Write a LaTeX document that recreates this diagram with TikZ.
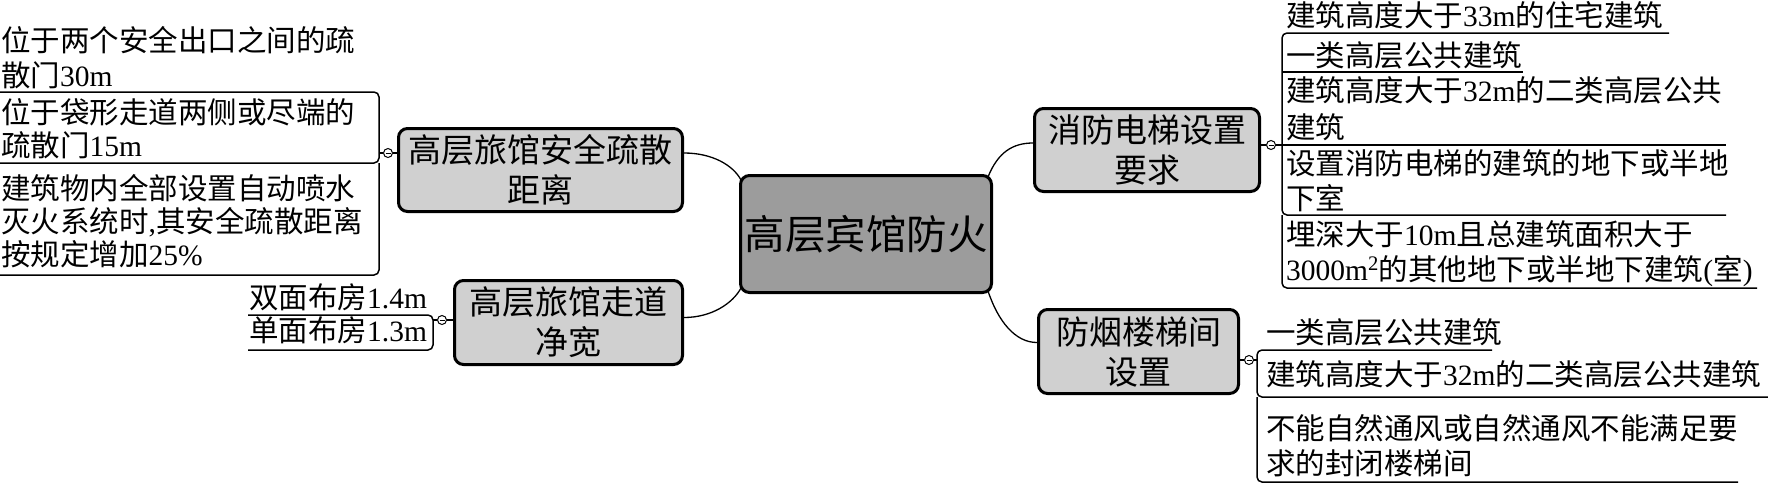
\documentclass[tikz,border=0pt]{standalone}
\usepackage{fontspec}
\setmainfont{Noto Sans CJK SC}
\newfontfamily\latfont{Liberation Serif}
\newcommand\latn[1]{{\latfont #1}}
\usetikzlibrary{backgrounds}
\definecolor{cengray}{HTML}{9C9C9C}
\definecolor{subgray}{HTML}{D0D0D0}
\tikzset{
 cnode/.style={draw=black, line width=3pt, rounded corners=9pt, fill=cengray, minimum width=251pt, minimum height=117pt, inner sep=0pt, font=\fontsize{40.5}{48}\selectfont},
 snode/.style={draw=black, line width=3pt, rounded corners=9pt, fill=subgray, inner sep=0pt, align=center, font=\fontsize{33}{40}\selectfont},
 leaf/.style={anchor=base west, inner sep=0pt, align=left, font=\fontsize{29.5}{35}\selectfont},
 leafs/.style={leaf, font=\fontsize{29.5}{33}\selectfont},
 bline/.style={line width=1.5pt, rounded corners=5pt},
 conn/.style={line width=1.3pt},
 knob/.style={circle, draw, line width=1pt, fill=white, minimum size=9pt, inner sep=0pt,
   path picture={\draw[line width=0.8pt] ([xshift=-2.5pt]path picture bounding box.center) -- ([xshift=2.5pt]path picture bounding box.center);}},
}
\begin{document}
\begin{tikzpicture}[x=1pt,y=-1pt]
\useasboundingbox (0,0) rectangle (1768,483);
% central and main topics
\node[cnode] (cen) at (866,234) {高层宾馆防火};
\node[snode, minimum width=284pt, minimum height=83pt] (A) at (540.5,170) {高层旅馆安全疏散\\距离};
\node[snode, minimum width=228pt, minimum height=84pt] (B) at (568.5,322.5) {高层旅馆走道\\净宽};
\node[snode, minimum width=225pt, minimum height=83pt] (C) at (1147,150) {消防电梯设置\\要求};
\node[snode, minimum width=200pt, minimum height=84pt] (D) at (1138.5,351.5) {防烟楼梯间\\设置};
% connectors
\begin{scope}[on background layer]
\draw[conn] ([yshift=17pt]A.east) .. controls +(28,0) and +(-8,-15) .. ([xshift=2pt,yshift=-6pt]cen.north west);
\draw[conn] ([yshift=5pt]B.east) .. controls +(28,0) and +(-8,15) .. ([xshift=2pt,yshift=6pt]cen.south west);
\draw[conn] ([xshift=-5pt,yshift=-3pt]cen.north east) .. controls +(10,-25) and +(-20,0) .. ([yshift=7pt]C.west);
\draw[conn] ([xshift=-5pt,yshift=3pt]cen.south east) .. controls +(10,30) and +(-22,0) .. ([yshift=9pt]D.west);
\end{scope}
% knobs
\node[knob] (ka) at (388,153) {};
\node[knob] (kb) at (442,320) {};
\node[knob] (kc) at (1271,145) {};
\node[knob] (kd) at (1249,360) {};
\draw[line width=1.2pt] (379,153) -- (ka.west) (ka.east) -- (ka.east -| A.west);
\draw[line width=1.2pt] (433,320) -- (kb.west) (kb.east) -- (kb.east -| B.west);
\draw[line width=1.2pt] (kc.west -| C.east) -- (kc.west) (kc.east) -- (1282,145);
\draw[line width=1.2pt] (kd.west -| D.east) -- (kd.west) (kd.east) -- (1257,360);
% brackets and underlines
\draw[bline] (0,92) -- (379,92) -- (379,163) -- (0,163);
\draw[bline] (379,163) -- (379,275) -- (0,275);
\draw[bline] (248,315) -- (433,315) -- (433,350) -- (248,350);
\draw[bline] (1669,33) -- (1282,33) -- (1282,215) -- (1726,215);
\draw[bline] (1282,215) -- (1282,288) -- (1757,288);
\draw[bline] (1282,72) -- (1523,72);
\draw[bline] (1282,145) -- (1726,145);
\draw[bline] (1492,350) -- (1257,350) -- (1257,397) -- (1768,397);
\draw[bline] (1257,397) -- (1257,482) -- (1738,482);
% leaves (anchor = baseline of the last line)
\node[leaf] (a1) at (1,86) {位于两个安全出口之间的疏\\散门\latn{30m}};
\node[leafs] (a2) at (1,156) {位于袋形走道两侧或尽端的\\疏散门\latn{15m}};
\node[leafs] (a3) at (1,265) {建筑物内全部设置自动喷水\\灭火系统时\latn{,}其安全疏散距离\\按规定增加\latn{25\%}};
\node[leaf] (b1) at (249,308) {双面布房\latn{1.4m}};
\node[leaf] (b2) at (249,341) {单面布房\latn{1.3m}};
\node[leaf] (c1) at (1286,26) {建筑高度大于\latn{33m}的住宅建筑};
\node[leaf] (c2) at (1286,66) {一类高层公共建筑};
\node[leaf, font=\fontsize{29.5}{37}\selectfont] (c3) at (1286,138) {建筑高度大于\latn{32m}的二类高层公共\\建筑};
\node[leaf] (c4) at (1286,209) {设置消防电梯的建筑的地下或半地\\下室};
\node[leaf] (c5) at (1286,280) {埋深大于\latn{10m}且总建筑面积大于\\\latn{3000m\textsuperscript{2}}的其他地下或半地下建筑\latn{(}室\latn{)}};
\node[leaf] (d1) at (1266,343) {一类高层公共建筑};
\node[leaf] (d2) at (1266,385) {建筑高度大于\latn{32m}的二类高层公共建筑};
\node[leaf] (d3) at (1266,474) {不能自然通风或自然通风不能满足要\\求的封闭楼梯间};
\end{tikzpicture}
\end{document}
